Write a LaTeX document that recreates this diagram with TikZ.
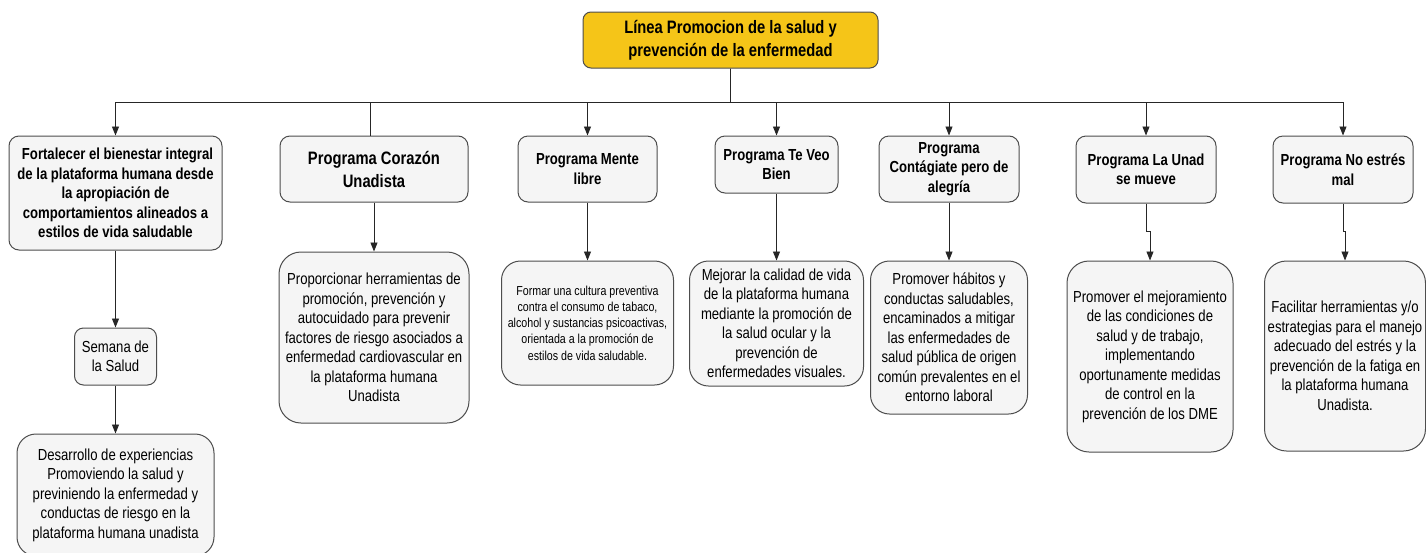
\documentclass[tikz,border=0pt]{standalone}
\usepackage{fontspec}
\setmainfont{Liberation Sans}[FakeStretch=0.82]
\usepackage{xcolor}
\usepackage{tikz}
\usetikzlibrary{arrows.meta, positioning}
\definecolor{LineaGold}{HTML}{F5C518}
\definecolor{BoxGray}{HTML}{F5F5F5}
\definecolor{EdgeGray}{HTML}{4D4D4D}
\tikzset{
    titlebox/.style={rectangle, rounded corners=8pt, minimum width=295pt, minimum height=56pt,
        align=center, draw=EdgeGray, line width=1pt, fill=LineaGold, inner sep=1pt,
        font=\fontsize{18}{23}\selectfont\bfseries},
    progbox/.style={rectangle, rounded corners=10pt, align=center, draw=EdgeGray, line width=1pt,
        fill=BoxGray, inner sep=1pt, font=\fontsize{16}{19.5}\selectfont\bfseries},
    descbox/.style={rectangle, rounded corners=19pt, align=center, draw=EdgeGray, line width=1pt,
        fill=BoxGray, inner sep=1pt, font=\fontsize{16}{19.5}\selectfont},
    linkarrow/.style={-{Triangle[length=9pt, width=7pt]}, draw=black!85, line width=0.9pt},
    linkline/.style={draw=black!85, line width=0.9pt},
}
\begin{document}
\begin{tikzpicture}[x=1pt, y=-1pt]
    \useasboundingbox[fill=white] (0,0) rectangle (1426,552);

    \node[titlebox] (linea) at (730.5,40) {L\'inea Promocion de la salud y\\prevenci\'on de la enfermedad};

    % programas, first row
    \node[progbox, minimum width=213pt, minimum height=114pt] (fortalecer) at (115.5,193)
        {\hspace{4pt}Fortalecer el bienestar integral\\de la plataforma humana desde\\la apropiaci\'on de\\comportamientos alineados a\\estilos de vida saludable};
    \node[progbox, font=\fontsize{18}{23}\selectfont\bfseries, minimum width=188pt, minimum height=66pt] (corazon) at (374,169)
        {Programa Coraz\'on\\Unadista};
    \node[progbox, minimum width=139pt, minimum height=66pt] (mente) at (587.5,169) {Programa Mente\\libre};
    \node[progbox, minimum width=123pt, minimum height=57pt] (teveo) at (776.5,164.5) {Programa Te Veo\\Bien};
    \node[progbox, minimum width=140pt, minimum height=66pt] (contagiate) at (949,169)
        {Programa\\Cont\'agiate pero de\\alegr\'ia};
    \node[progbox, minimum width=140pt, minimum height=67pt] (mueve) at (1146,169.5) {Programa La Unad\\se mueve};
    \node[progbox, minimum width=140pt, minimum height=67pt] (noestres) at (1343,169.5) {Programa No estr\'es\\mal};

    % objetivos below each programa
    \node[descbox, rounded corners=9pt, minimum width=82pt, minimum height=57pt, below=77pt of fortalecer] (semana)
        {Semana de\\la Salud};
    \node[descbox, minimum width=197pt, minimum height=122pt, below=48pt of semana] (desarrollo)
        {Desarrollo de experiencias\\Promoviendo la salud y\\previniendo la enfermedad y\\conductas de riesgo en la\\plataforma humana unadista};
    \node[descbox, rounded corners=22pt, minimum width=190pt, minimum height=171pt, below=49pt of corazon] (proporcionar)
        {Proporcionar herramientas de\\promoci\'on, prevenci\'on y\\autocuidado para prevenir\\factores de riesgo asociados a\\enfermedad cardiovascular en\\la plataforma humana\\Unadista};
    \node[descbox, font=\fontsize{13}{16.2}\selectfont, minimum width=172pt, minimum height=124pt, below=58pt of mente] (formar)
        {Formar una cultura preventiva\\contra el consumo de tabaco,\\alcohol y sustancias psicoactivas,\\orientada a la promoci\'on de\\estilos de vida saludable.};
    \node[descbox, minimum width=174pt, minimum height=125pt, below=67pt of teveo] (mejorar)
        {Mejorar la calidad de vida\\de la plataforma humana\\mediante la promoci\'on de\\la salud ocular y la\\prevenci\'on de\\enfermedades visuales.};
    \node[descbox, minimum width=157pt, minimum height=153pt, below=58pt of contagiate] (habitos)
        {Promover h\'abitos y\\conductas saludables,\\encaminados a mitigar\\las enfermedades de\\salud p\'ublica de origen\\com\'un prevalentes en el\\entorno laboral};
    \node[descbox, rounded corners=22pt, minimum width=166pt, minimum height=191pt, below=57pt of mueve, xshift=4pt] (mejoramiento)
        {Promover el mejoramiento\\de las condiciones de\\salud y de trabajo,\\implementando\\oportunamente medidas\\de control en la\\prevenci\'on de los DME};
    \node[descbox, rounded corners=22pt, minimum width=161pt, minimum height=190pt, below=57pt of noestres, xshift=2pt] (facilitar)
        {Facilitar herramientas y/o\\estrategias para el manejo\\adecuado del estr\'es y la\\prevenci\'on de la fatiga en\\la plataforma humana\\Unadista.};

    \draw[linkline] (linea.south) -- ++(0,34) -| ([xshift=-4pt]corazon.north);
    \foreach \prog in {fortalecer, mente, teveo, contagiate, mueve, noestres}
        \draw[linkarrow] (linea.south) -- ++(0,34) -| (\prog.north);

    \draw[linkarrow] (fortalecer) -- (semana);
    \draw[linkarrow] (semana) -- (desarrollo);
    \foreach \a/\b in {corazon/proporcionar, mente/formar, teveo/mejorar, contagiate/habitos}
        \draw[linkarrow] (\a) -- (\b);
    \draw[linkarrow] (mueve.south) -- ++(0,28) -| (mejoramiento.north);
    \draw[linkarrow] (noestres.south) -- ++(0,28) -| (facilitar.north);
\end{tikzpicture}
\end{document}
